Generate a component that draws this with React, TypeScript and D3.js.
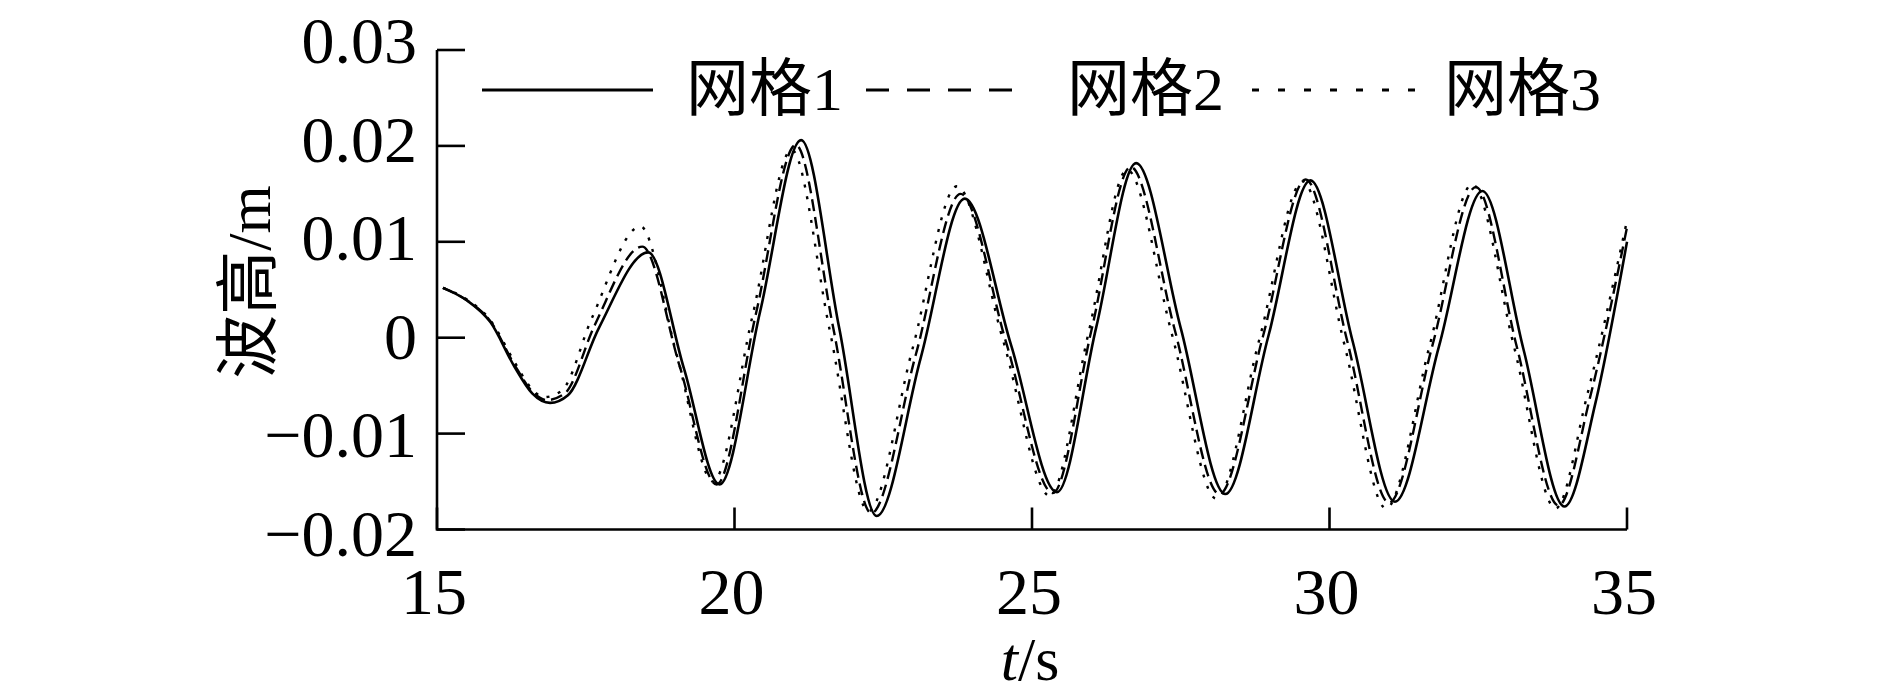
import React from "react";
import * as d3 from "d3";

const xTicks = [15, 20, 25, 30, 35];
const yTicks = [0.03, 0.02, 0.01, 0, -0.01, -0.02];
const yTickLabels = ["0.03", "0.02", "0.01", "0", "\u22120.01", "\u22120.02"];
const legendNames = ["网格", "网格", "网格"];
const legendNums = ["1", "2", "3"];

const grid1T = [15.1, 15.5, 15.9, 16.3, 16.6, 16.9, 17.2, 17.72, 18.55, 19.15, 19.75, 20.43, 21.12, 21.76, 22.39, 23.13, 23.87, 24.65, 25.42, 26.08, 26.75, 27.5, 28.25, 28.97, 29.68, 30.39, 31.1, 31.84, 32.57, 33.26, 33.95, 34.47, 35.0];
const grid1V = [0.0052, 0.0039, 0.0016, -0.003, -0.0058, -0.0068, -0.006, 0.001, 0.0089, -0.0032, -0.0153, 0.0027, 0.0206, 0.001, -0.0186, -0.0021, 0.0145, -0.0008, -0.0161, 0.0011, 0.0182, 0.001, -0.0163, 0.0001, 0.0164, -0.0004, -0.0171, -0.0009, 0.0153, -0.0012, -0.0176, -0.0068, 0.01];

const grid2T = [15.1, 15.5, 15.9, 16.3, 16.6, 16.85, 17.15, 17.65, 18.45, 19.08, 19.7, 20.36, 21.03, 21.66, 22.3, 23.05, 23.8, 24.57, 25.35, 26.0, 26.66, 27.4, 28.15, 28.88, 29.6, 30.3, 31.0, 31.73, 32.46, 33.15, 33.85, 34.38, 35.0];
const grid2V = [0.0052, 0.0039, 0.0017, -0.0028, -0.0056, -0.0065, -0.0058, 0.0013, 0.0095, -0.003, -0.0153, 0.0025, 0.0201, 0.001, -0.0183, -0.0017, 0.015, -0.0006, -0.0162, 0.0008, 0.0178, 0.0008, -0.0163, 0.0001, 0.0165, -0.0004, -0.0172, -0.0008, 0.0157, -0.001, -0.0175, -0.0062, 0.0115];

const grid3T = [15.1, 15.5, 15.9, 16.3, 16.55, 16.8, 17.1, 17.6, 18.42, 19.03, 19.64, 20.3, 20.96, 21.6, 22.25, 22.99, 23.74, 24.52, 25.3, 25.95, 26.6, 27.35, 28.1, 28.82, 29.55, 30.25, 30.95, 31.68, 32.4, 33.1, 33.8, 34.33, 35.0];
const grid3V = [0.0052, 0.004, 0.0018, -0.0025, -0.005, -0.0062, -0.0055, 0.002, 0.0116, -0.0018, -0.015, 0.0022, 0.0196, 0.0008, -0.0181, -0.0012, 0.0158, -0.0004, -0.0165, 0.0005, 0.0175, 0.0004, -0.0168, -0.0002, 0.0163, -0.0007, -0.0178, -0.0009, 0.016, -0.0009, -0.0178, -0.006, 0.0122];

const W = 1890;
const H = 699;
const serif = "'Liberation Serif', 'Times New Roman', 'Noto Sans CJK SC', serif";
const cjk = "'Noto Sans CJK SC', sans-serif";

export default function App() {
  const x = d3.scaleLinear().domain([15, 35]).range([437, 1627]);
  const y = d3.scaleLinear().domain([-0.02, 0.03]).range([529.5, 50]);
  const yLab = d3.scaleLinear().domain([0.03, -0.02]).range([63, 556]);

  const line = d3
    .line<[number, number]>()
    .x((d) => x(d[0]))
    .y((d) => y(d[1]))
    .curve(d3.curveMonotoneX);

  const series = [
    { t: grid1T, v: grid1V, dash: undefined as string | undefined, legDash: undefined as string | undefined },
    { t: grid2T, v: grid2V, dash: "12,6", legDash: "23,18" },
    { t: grid3T, v: grid3V, dash: "3,9", legDash: "7,19" },
  ];

  const legend = [
    { x1: 482, x2: 653, tx: 686 },
    { x1: 866, x2: 1014, tx: 1067 },
    { x1: 1252, x2: 1418, tx: 1444 },
  ];

  const x0 = x(15);
  const yb = y(-0.02);

  return (
    <svg
      width={W}
      height={H}
      style={{ position: "absolute", left: 0, top: 0, background: "#fff" }}
    >
      <rect x={0} y={0} width={W} height={H} fill="#fff" />
      {/* axes */}
      <path
        d={`M${x0},${y(0.03)}V${yb}H${x(35)}`}
        fill="none"
        stroke="#000"
        strokeWidth={2.6}
      />
      {yTicks.map((t, i) => (
        <g key={"yt" + i}>
          <line x1={x0} x2={x0 + 28} y1={y(t)} y2={y(t)} stroke="#000" strokeWidth={2.6} />
          <text
            x={417}
            y={yLab(t)}
            textAnchor="end"
            fontFamily={serif}
            fontSize={66}
            fill="#000"
          >
            {yTickLabels[i]}
          </text>
        </g>
      ))}
      {xTicks.map((t, i) => (
        <g key={"xt" + i}>
          <line x1={x(t)} x2={x(t)} y1={yb} y2={yb - 22} stroke="#000" strokeWidth={2.6} />
          <text
            x={x(t) - 3}
            y={614}
            textAnchor="middle"
            fontFamily={serif}
            fontSize={66}
            fill="#000"
          >
            {String(t)}
          </text>
        </g>
      ))}
      {/* axis titles */}
      <text x={1030} y={680} textAnchor="middle" fontFamily={serif} fontSize={62} fill="#000">
        <tspan fontStyle="italic">t</tspan>/s
      </text>
      <text
        transform="translate(270,282) rotate(-90)"
        textAnchor="middle"
        fontFamily={serif}
        fontSize={62}
        fill="#000"
      >
        <tspan fontFamily={cjk} fontSize={64}>波高</tspan>/m
      </text>
      {/* data */}
      {series.map((s, i) => (
        <path
          key={"s" + i}
          d={line(s.t.map((t, j) => [t, s.v[j]] as [number, number])) || ""}
          fill="none"
          stroke="#000"
          strokeWidth={i === 0 ? 2.6 : 2.4}
          strokeDasharray={s.dash}
        />
      ))}
      {/* legend */}
      {legend.map((l, i) => (
        <g key={"lg" + i}>
          <line
            x1={l.x1}
            x2={l.x2}
            y1={90}
            y2={90}
            stroke="#000"
            strokeWidth={3}
            strokeDasharray={series[i].legDash}
          />
          <text x={l.tx} y={110} fontFamily={serif} fontSize={62} fill="#000">
            <tspan fontFamily={cjk} fontSize={63}>{legendNames[i]}</tspan>
            <tspan>{legendNums[i]}</tspan>
          </text>
        </g>
      ))}
    </svg>
  );
}
